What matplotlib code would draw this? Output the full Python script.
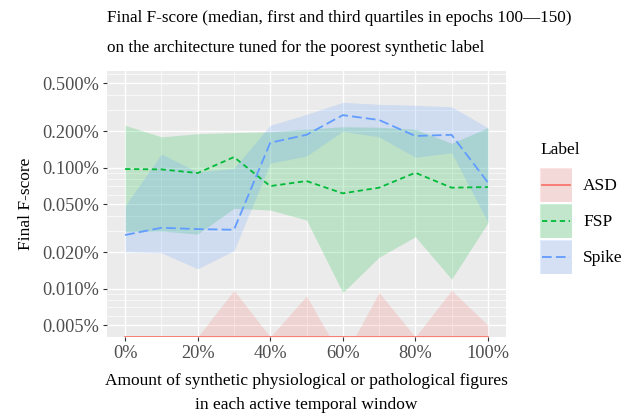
import numpy as np
import matplotlib
matplotlib.use("Agg")
import matplotlib.pyplot as plt
from matplotlib.patches import Rectangle
from matplotlib.lines import Line2D
from matplotlib.legend_handler import HandlerBase
from matplotlib.ticker import FixedLocator, FuncFormatter, NullFormatter

plt.rcParams['font.family'] = ['Liberation Serif', 'DejaVu Serif']
plt.rcParams['lines.scale_dashes'] = False

# ---------------- data (values in percent) ----------------
amount = [0, 10, 20, 30, 40, 50, 60, 70, 80, 90, 100]
labels = ["ASD", "FSP", "Spike"]

asd_median = [0, 0, 0, 0, 0, 0, 0, 0, 0, 0, 0]
asd_q1 = [0, 0, 0, 0, 0, 0, 0, 0, 0, 0, 0]
asd_q3 = [0, 0, 0, 0.0097, 0, 0.0087, 0.0026, 0.0093, 0, 0.0097, 0.0050]

fsp_median = [0.0975, 0.0969, 0.0904, 0.1225, 0.0705, 0.0776, 0.0614, 0.0684, 0.0909, 0.0684, 0.0692]
fsp_q1 = [0.0296, 0.0300, 0.0283, 0.0462, 0.0447, 0.0370, 0.0093, 0.0182, 0.0269, 0.0120, 0.0350]
fsp_q3 = [0.224, 0.180, 0.191, 0.195, 0.198, 0.208, 0.218, 0.216, 0.208, 0.159, 0.214]

spike_median = [0.0278, 0.0319, 0.0311, 0.0307, 0.161, 0.187, 0.272, 0.248, 0.183, 0.187, 0.0756]
spike_q1 = [0.0202, 0.0198, 0.0146, 0.0206, 0.109, 0.125, 0.200, 0.180, 0.122, 0.133, 0.0355]
spike_q3 = [0.0483, 0.130, 0.092, 0.099, 0.224, 0.276, 0.347, 0.334, 0.328, 0.319, 0.214]

y_breaks = [0.005, 0.01, 0.02, 0.05, 0.1, 0.2, 0.5]
x_breaks = [0, 20, 40, 60, 80, 100]

title_lines = ["Final F-score (median, first and third quartiles in epochs 100\u2014150)",
               "on the architecture tuned for the poorest synthetic label"]
xlabel = "Amount of synthetic physiological or pathological figures\nin each active temporal window"
ylabel = "Final F-score"
legend_title = "Label"

# ---------------- style ----------------
colors = {"ASD": "#F8766D", "FSP": "#00BA38", "Spike": "#619CFF"}
dashes = {"ASD": None, "FSP": (3.8, 2.6), "Spike": (7.0, 3.0)}
FS = 12.5
TFS = 12.3
TICKFS = 13.2
W, H = 639, 413
DPI = 100

fig = plt.figure(figsize=(W / DPI, H / DPI), dpi=DPI)
px = lambda x0, y0, x1, y1: [x0 / W, 1 - y1 / H, (x1 - x0) / W, (y1 - y0) / H]
ax = fig.add_axes(px(107, 71, 506, 337))
ax.set_facecolor("#EBEBEB")
for s in ax.spines.values():
    s.set_visible(False)

ax.set_yscale("log")
ax.set_xlim(-5, 105)
ax.set_ylim(0.00399, 0.630)

# grid
minor_y = [m * 10.0 ** k for k in range(-4, 1) for m in (3, 4, 6, 7, 8, 9)]
ax.yaxis.set_major_locator(FixedLocator(y_breaks))
ax.yaxis.set_minor_locator(FixedLocator(minor_y))
ax.yaxis.set_major_formatter(FuncFormatter(lambda v, p: f"{v:.3f}%"))
ax.yaxis.set_minor_formatter(NullFormatter())
ax.xaxis.set_major_locator(FixedLocator(x_breaks))
ax.xaxis.set_minor_locator(FixedLocator([10, 30, 50, 70, 90]))
ax.xaxis.set_major_formatter(FuncFormatter(lambda v, p: f"{v:.0f}%"))
ax.grid(which="major", color="white", linewidth=1.0)
ax.grid(which="minor", color="white", linewidth=0.5)
ax.set_axisbelow(True)
ax.tick_params(which="major", length=2.9, width=0.8, color="#333333",
               labelcolor="#4D4D4D", labelsize=TICKFS, pad=3)
ax.tick_params(which="minor", length=0)

series = {
    "ASD": (asd_median, asd_q1, asd_q3),
    "FSP": (fsp_median, fsp_q1, fsp_q3),
    "Spike": (spike_median, spike_q1, spike_q3),
}

# like ggplot on a log scale: zero (-Inf) is squished to the panel edge
ybottom = ax.get_ylim()[0]
squish = lambda v: np.where(np.asarray(v, dtype=float) > 0, np.asarray(v, dtype=float), ybottom)

for lab in labels:
    med, lo, hi = series[lab]
    ax.fill_between(amount, squish(lo), squish(hi), color=colors[lab], alpha=0.2, linewidth=0)

for lab in labels:
    ln, = ax.plot(amount, squish(series[lab][0]), color=colors[lab], linewidth=1.3)
    if dashes[lab] is not None:
        ln.set_dashes(dashes[lab])

ax.set_ylabel(ylabel, fontsize=FS, labelpad=6)
ax.set_xlabel(xlabel, fontsize=FS, labelpad=8, linespacing=1.62)
ax.set_title("\n".join(title_lines), loc="left", fontsize=TFS, linespacing=2.2, pad=13.5)


# legend
class KeyHandler(HandlerBase):
    def create_artists(self, legend, orig_handle, xdescent, ydescent,
                       width, height, fontsize, trans):
        x0, y0 = -xdescent, -ydescent
        lab = orig_handle.get_label()
        bg = Rectangle((x0, y0), width, height, facecolor="#F2F2F2",
                       edgecolor="white", linewidth=0.8, transform=trans)
        fill = Rectangle((x0, y0), width, height, facecolor=colors[lab],
                         alpha=0.2, edgecolor="none", transform=trans)
        yc = y0 + height / 2
        ln = Line2D([x0 + 1.5, x0 + width - 1.5], [yc, yc], color=colors[lab],
                    linewidth=orig_handle.get_linewidth(), transform=trans)
        if dashes[lab] is not None:
            ln.set_dashes(dashes[lab])
        return [bg, fill, ln]


handles = [Line2D([], [], color=colors[lab], linewidth=1.3, label=lab) for lab in labels]

fs_px = FS * DPI / 72
key_h = 34.0
hh = (key_h / fs_px - 0.35 * 0.7) / (1 - 0.35)
leg = ax.legend(handles=handles, labels=labels, handler_map={Line2D: KeyHandler()},
                loc="upper left", bbox_to_anchor=(540 / W, 1 - 168 / H),
                bbox_transform=fig.transFigure, frameon=False, borderpad=0,
                borderaxespad=0, handlelength=32 / fs_px, handleheight=hh,
                handletextpad=11 / fs_px, labelspacing=2 / fs_px, fontsize=FS)
fig.text(540 / W, 1 - 150 / H, legend_title, fontsize=FS, va="center", ha="left")

fig.savefig("out.png", dpi=DPI)
